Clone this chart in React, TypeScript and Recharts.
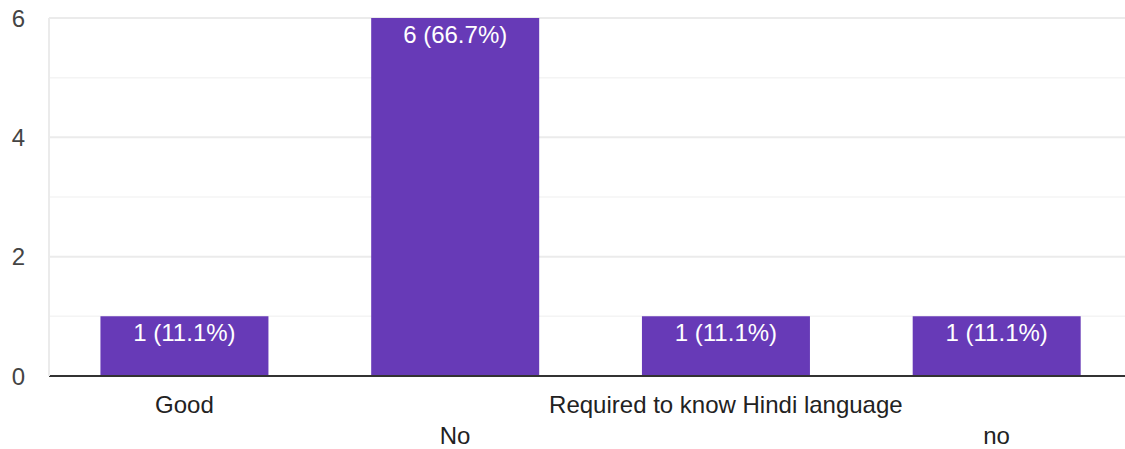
import React from "react";
import { BarChart, Bar, XAxis, YAxis, CartesianGrid, LabelList } from "recharts";

const categories = ["Good", "No", "Required to know Hindi language", "no"];
const counts = [1, 6, 1, 1];
const percents = ["11.1%", "66.7%", "11.1%", "11.1%"];
const yTicks = [0, 1, 2, 3, 4, 5, 6];
const majorLines = [2, 4, 6];
const minorLines = [1, 3, 5];

const FONT = "'Liberation Sans', Arial, sans-serif";
const BAR_COLOR = "#673ab7";

const data = categories.map((name, i) => ({
  name,
  value: counts[i],
  label: `${counts[i]} (${percents[i]})`,
}));

// alternate category labels between two rows, like the original
function StaggeredTick(props: any) {
  const { x, y, payload, index } = props;
  const dy = index % 2 === 0 ? 29 : 60;
  return (
    <text x={x} y={y} dy={dy} textAnchor="middle" fill="#222" fontSize={24} fontFamily={FONT}>
      {payload.value}
    </text>
  );
}

export default function App() {
  return (
    <div
      style={{
        position: "fixed",
        left: 0,
        top: 0,
        width: 1125,
        height: 449,
        overflow: "hidden",
        background: "#fff",
      }}
    >
      <BarChart
        width={1132}
        height={449}
        data={data}
        margin={{ top: 18, right: 0, left: 0, bottom: 0 }}
        barCategoryGap="19%"
      >
        <CartesianGrid vertical={false} horizontalValues={minorLines} stroke="#f4f4f4" strokeWidth={1.5} />
        <CartesianGrid vertical={false} horizontalValues={majorLines} stroke="#ebebeb" strokeWidth={2} />
        <XAxis
          dataKey="name"
          height={73}
          interval={0}
          tickLine={false}
          axisLine={{ stroke: "#333", strokeWidth: 2 }}
          tick={<StaggeredTick />}
        />
        <YAxis
          width={49}
          domain={[0, 6]}
          ticks={yTicks}
          interval={0}
          tickLine={false}
          tickSize={0}
          tickMargin={24}
          axisLine={{ stroke: "#ebebeb", strokeWidth: 2 }}
          tick={{ fill: "#444", fontSize: 24, fontFamily: FONT }}
          tickFormatter={(v: number) => (v % 2 === 0 ? String(v) : "")}
        />
        <Bar dataKey="value" fill={BAR_COLOR} isAnimationActive={false}>
          <LabelList
            dataKey="label"
            position="insideTop"
            offset={8}
            fill="#fff"
            fontSize={24}
            fontFamily={FONT}
          />
        </Bar>
      </BarChart>
    </div>
  );
}
